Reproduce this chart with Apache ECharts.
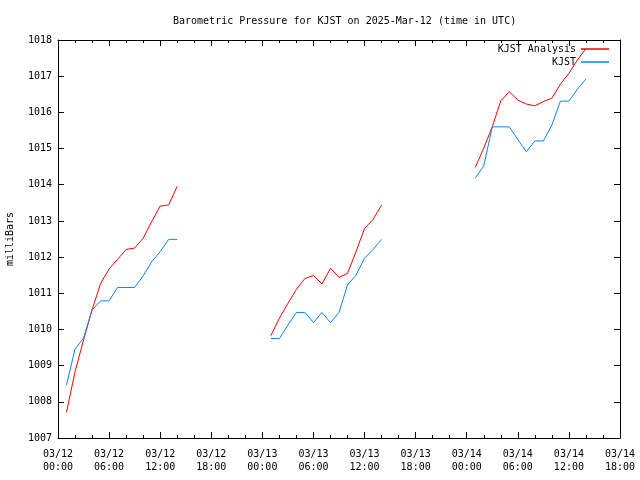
<!DOCTYPE html>
<html>
<head>
<meta charset="utf-8">
<script src="https://cdn.jsdelivr.net/npm/echarts@6/dist/echarts.min.js"></script>
<style>html,body{margin:0;padding:0;background:#fff}#c{width:640px;height:480px}</style>
</head>
<body>
<div id="c"></div>
<script>
// hours since 03/12 00:00 UTC
var hours1 = [1,2,3,4,5,6,7,8,9,10,11,12,13,14];
var hours2 = [25,26,27,28,29,30,31,32,33,34,35,36,37,38];
var hours3 = [49,50,51,52,53,54,55,56,57,58,59,60,61,62];

var analysis1 = [1007.71,1008.83,1009.71,1010.54,1011.27,1011.67,1011.94,1012.21,1012.25,1012.52,1012.98,1013.41,1013.44,1013.96];
var analysis2 = [1009.83,1010.31,1010.72,1011.11,1011.41,1011.49,1011.26,1011.69,1011.44,1011.55,1012.15,1012.79,1013.04,1013.44];
var analysis3 = [1014.48,1015.01,1015.60,1016.32,1016.57,1016.34,1016.23,1016.18,1016.30,1016.39,1016.78,1017.08,1017.45,1017.76];

var obs1 = [1008.46,1009.46,1009.76,1010.54,1010.79,1010.79,1011.16,1011.16,1011.16,1011.48,1011.87,1012.15,1012.49,1012.49];
var obs2 = [1009.75,1009.75,1010.12,1010.47,1010.47,1010.19,1010.47,1010.19,1010.47,1011.23,1011.50,1011.97,1012.21,1012.49];
var obs3 = [1014.18,1014.52,1015.60,1015.60,1015.60,1015.25,1014.91,1015.21,1015.21,1015.65,1016.31,1016.31,1016.64,1016.92];

var xTickLabels = ["03/12\n00:00","03/12\n06:00","03/12\n12:00","03/12\n18:00","03/13\n00:00","03/13\n06:00","03/13\n12:00","03/13\n18:00","03/14\n00:00","03/14\n06:00","03/14\n12:00","03/14\n18:00"];

var FONT = '"DejaVu Sans Mono", "Liberation Mono", monospace';
function pairs(h, v){ return h.map(function(x,i){ return [x, v[i]]; }); }

var chart = echarts.init(document.getElementById('c'), null, {renderer:'canvas'});
function lineSeries(name, color, h, v){
  return {name:name, type:'line', data:pairs(h,v), showSymbol:false, symbol:'none',
    lineStyle:{color:color, width:1}, itemStyle:{color:color}, xAxisIndex:0, yAxisIndex:0, animation:false};
}
var RED = '#ff0000', BLUE = '#0a84ff';
var axisCommon = {
  axisLine:{show:true, onZero:false, lineStyle:{color:'#000', width:1}},
  splitLine:{show:false}
};
chart.setOption({
  animation:false,
  backgroundColor:'#fff',
  title:{text:'Barometric Pressure for KJST on 2025-Mar-12 (time in UTC)', left:168, top:11,
    textStyle:{fontFamily:FONT, fontSize:10, fontWeight:'normal', color:'#000'}},
  legend:{data:['KJST Analysis','KJST'], orient:'vertical', right:31, top:44, align:'right',
    padding:0, icon:'rect', itemWidth:28, itemHeight:1.5, itemGap:3,
    textStyle:{fontFamily:FONT, fontSize:10, color:'#000', padding:[0,0,0,0]}},
  grid:{left:58, right:20, top:40, bottom:42, containLabel:false, outerBoundsMode:'none'},
  xAxis:[
    Object.assign({type:'value', min:0, max:66, interval:6, position:'bottom',
      axisTick:{show:true, inside:true, length:6, lineStyle:{color:'#000'}},
      minorTick:{show:true, splitNumber:3, length:3, lineStyle:{color:'#000'}},
      axisLabel:{margin:10, lineHeight:13, fontFamily:FONT, fontSize:10, color:'#000',
        formatter:function(v){ return xTickLabels[Math.round(v/6)]; }}}, axisCommon),
    Object.assign({type:'value', min:0, max:66, interval:6, position:'top',
      axisTick:{show:true, inside:true, length:6, lineStyle:{color:'#000'}},
      minorTick:{show:true, splitNumber:3, length:3, lineStyle:{color:'#000'}},
      axisLabel:{show:false}}, axisCommon)
  ],
  yAxis:[
    Object.assign({type:'value', min:1007, max:1018, interval:1, position:'left',
      name:'milliBars', nameLocation:'middle', nameRotate:90, nameGap:43,
      nameTextStyle:{fontFamily:FONT, fontSize:10, color:'#000'},
      axisTick:{show:true, inside:true, length:6, lineStyle:{color:'#000'}},
      axisLabel:{margin:6, fontFamily:FONT, fontSize:10, color:'#000',
        formatter:function(v){ return String(v); }}}, axisCommon),
    Object.assign({type:'value', min:1007, max:1018, interval:1, position:'right',
      axisTick:{show:true, inside:true, length:6, lineStyle:{color:'#000'}},
      axisLabel:{show:false}}, axisCommon)
  ],
  series:[
    lineSeries('KJST Analysis', RED, hours1, analysis1),
    lineSeries('KJST Analysis', RED, hours2, analysis2),
    lineSeries('KJST Analysis', RED, hours3, analysis3),
    lineSeries('KJST', BLUE, hours1, obs1),
    lineSeries('KJST', BLUE, hours2, obs2),
    lineSeries('KJST', BLUE, hours3, obs3)
  ]
});
</script>
</body>
</html>
